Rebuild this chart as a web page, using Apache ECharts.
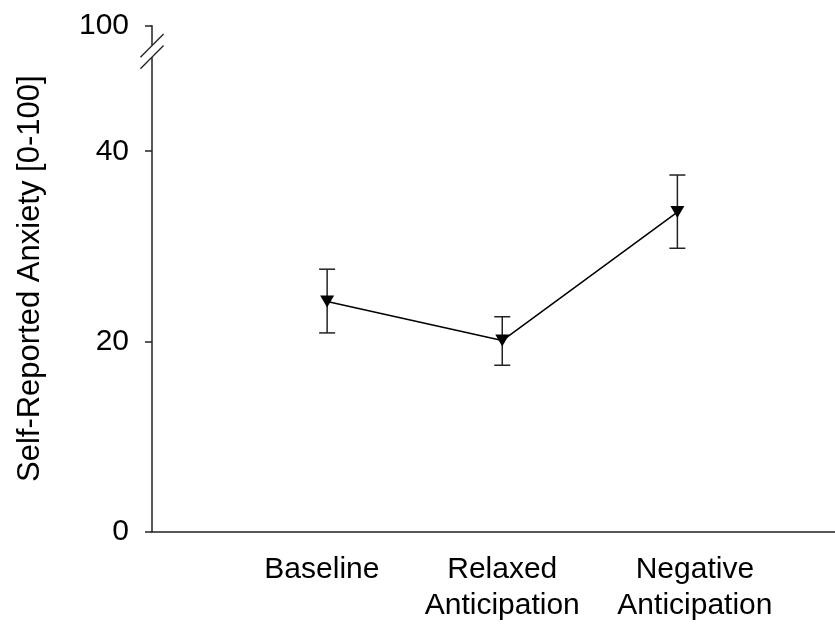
<!DOCTYPE html>
<html>
<head>
<meta charset="utf-8">
<script src="https://cdn.jsdelivr.net/npm/echarts@6/dist/echarts.min.js"></script>
<style>
html,body{margin:0;padding:0;background:#fff;}
#chart{width:835px;height:626px;}
</style>
</head>
<body>
<div id="chart"></div>
<script>
// ---- data ----
const categories = ['Baseline', 'Relaxed\nAnticipation', 'Negative\nAnticipation'];
const xPositions = [1, 2, 3];
const labelPositions = [0.97, 2.0, 3.1];
const meanValues = [24.2, 20.1, 33.6];
const lowerValues = [20.9, 17.5, 29.8];
const upperValues = [27.6, 22.6, 37.5];
const yTickValues = [0, 20, 40, 53.2];
const yTickLabels = ['0', '20', '40', '100'];
const breakValue = 50.5;

const FONT = '"Liberation Sans", Arial, sans-serif';
const chart = echarts.init(document.getElementById('chart'), null, {renderer: 'canvas'});

const lineData = xPositions.map((x, i) => [x, meanValues[i]]);
const errData = xPositions.map((x, i) => [x, lowerValues[i], upperValues[i]]);

chart.setOption({
  animation: false,
  backgroundColor: '#ffffff',
  grid: {left: 152, right: 0, top: 25.7, bottom: 94.3, containLabel: false, outerBoundsMode: 'none'},
  xAxis: {
    type: 'value', min: 0, max: 3.9,
    splitLine: {show: false},
    axisTick: {show: false},
    axisLine: {show: true, onZero: false, lineStyle: {color: '#222', width: 1.5}},
    axisLabel: {
      customValues: labelPositions,
      margin: 20,
      fontFamily: FONT, fontSize: 30, color: '#000', lineHeight: 36,
      verticalAlign: 'top',
      formatter: function (v) {
        const i = labelPositions.indexOf(v);
        return i >= 0 ? categories[i] : '';
      }
    }
  },
  yAxis: {
    type: 'value', min: 0, max: 53.2,
    name: 'Self-Reported Anxiety [0-100]',
    nameLocation: 'middle',
    nameGap: 106,
    nameTextStyle: {fontFamily: FONT, fontSize: 31, color: '#000'},
    splitLine: {show: false},
    axisLine: {show: true, onZero: false, lineStyle: {color: '#222', width: 1.5}},
    axisTick: {show: true, customValues: yTickValues, length: 7, lineStyle: {color: '#222', width: 1.5}},
    axisLabel: {
      customValues: yTickValues,
      margin: 23,
      fontFamily: FONT, fontSize: 30, color: '#000',
      formatter: function (v) {
        const i = yTickValues.indexOf(v);
        return i >= 0 ? yTickLabels[i] : '';
      }
    }
  },
  series: [
    {
      type: 'custom',
      data: errData,
      z: 2,
      renderItem: function (params, api) {
        const x = api.value(0);
        const lo = api.coord([x, api.value(1)]);
        const hi = api.coord([x, api.value(2)]);
        const hw = 8;
        const style = {stroke: '#222', lineWidth: 1.5};
        return {
          type: 'group',
          children: [
            {type: 'line', shape: {x1: lo[0], y1: lo[1], x2: hi[0], y2: hi[1]}, style: style},
            {type: 'line', shape: {x1: lo[0] - hw, y1: lo[1], x2: lo[0] + hw, y2: lo[1]}, style: style},
            {type: 'line', shape: {x1: hi[0] - hw, y1: hi[1], x2: hi[0] + hw, y2: hi[1]}, style: style}
          ]
        };
      }
    },
    {
      type: 'line',
      data: lineData,
      z: 3,
      lineStyle: {color: '#000', width: 1.5},
      itemStyle: {color: '#000'},
      symbol: 'triangle',
      symbolRotate: 180,
      symbolSize: [14, 12],
      showSymbol: true
    }
  ]
});

// axis break marks
const p = chart.convertToPixel({gridIndex: 0}, [0, breakValue]);
const ax = p[0], cy = p[1];
const d = 11.6, off = 5.8;
chart.setOption({
  graphic: [
    {type: 'rect', shape: {x: ax - 3, y: cy - off, width: 6, height: off * 2}, style: {fill: '#fff'}, z: 100},
    {type: 'line', shape: {x1: ax - d, y1: cy - off + d, x2: ax + d, y2: cy - off - d}, style: {stroke: '#222', lineWidth: 1.3}, z: 101},
    {type: 'line', shape: {x1: ax - d, y1: cy + off + d, x2: ax + d, y2: cy + off - d}, style: {stroke: '#222', lineWidth: 1.3}, z: 101}
  ]
});
</script>
</body>
</html>
